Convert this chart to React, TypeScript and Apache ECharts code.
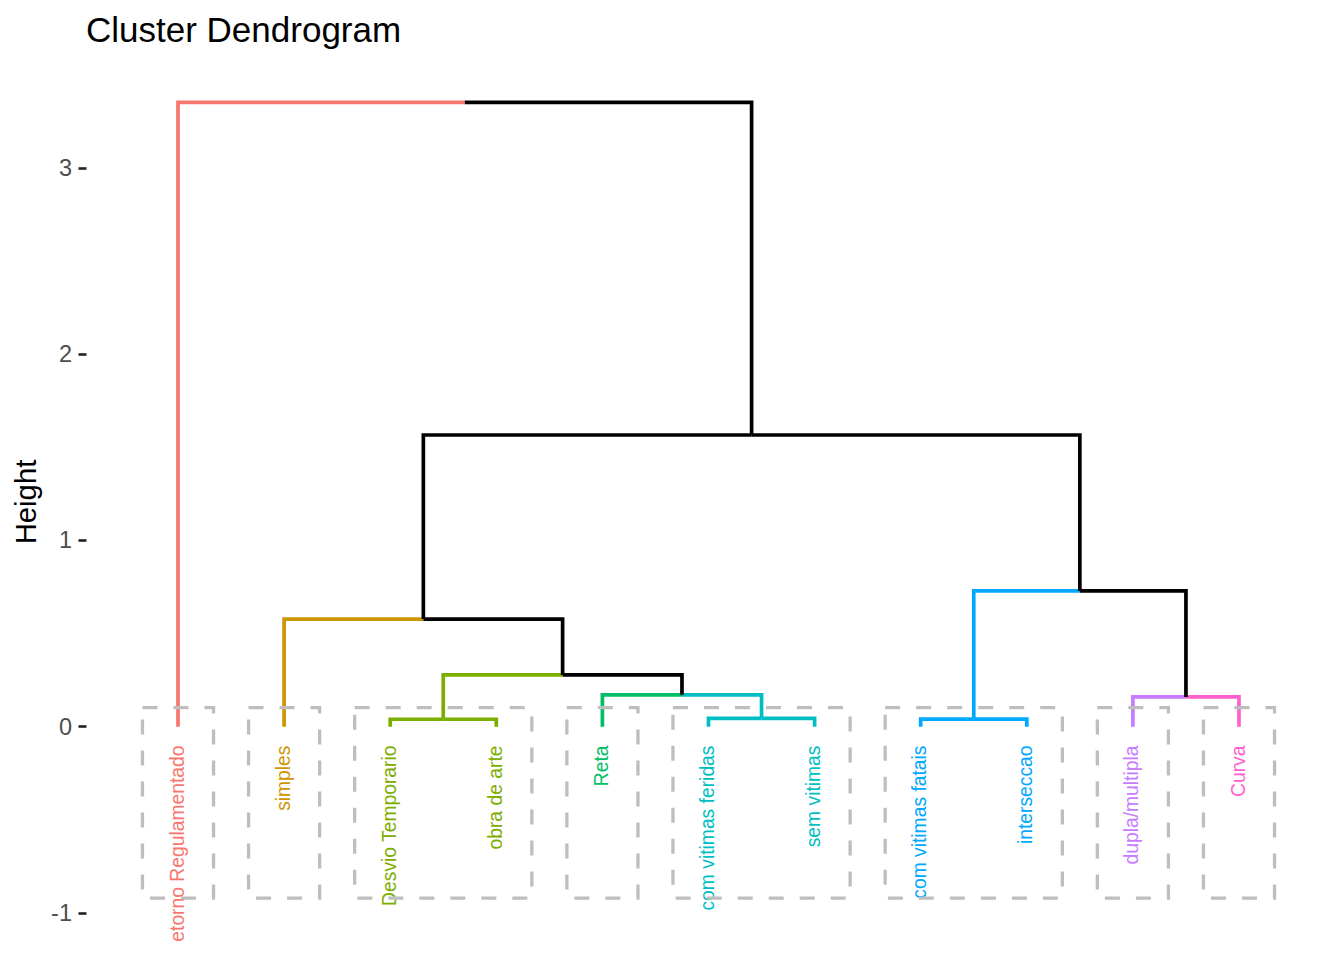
import React, { useEffect, useRef } from "react";
import * as echarts from "echarts";

// ---- data ----
const leafLabels = [
  "Retorno Regulamentado",
  "simples",
  "Desvio Temporario",
  "obra de arte",
  "Reta",
  "com vitimas feridas",
  "sem vitimas",
  "com vitimas fatais",
  "interseccao",
  "dupla/multipla",
  "Curva",
];
const leafCluster = [0, 1, 2, 2, 3, 4, 4, 5, 5, 6, 7];
const clusterColors = [
  "#F8766D",
  "#CD9600",
  "#7CAE00",
  "#00BE67",
  "#00BFC4",
  "#00A9FF",
  "#C77CFF",
  "#FF61CC",
];
// hclust-style merges: negative = leaf (1-based), positive = earlier merge (1-based)
const mergeLeft = [-3, -6, -8, -10, -5, 1, -2, 3, 7, -1];
const mergeRight = [-4, -7, -9, -11, 2, 5, 6, 4, 8, 9];
const mergeHeight = [0.04, 0.045, 0.041, 0.16, 0.171, 0.278, 0.578, 0.729, 1.566, 3.352];
const yTicks = [-1, 0, 1, 2, 3];
const rectTop = 0.102;
const rectBottom = -0.92;
const rectPad = 0.335;
const labelY = -0.101;

const FONT = "'Liberation Sans', Arial, Helvetica, sans-serif";

type Node = { x: number; h: number; color: string };

function buildTree() {
  const nodes: Node[] = [];
  const get = (ref: number): Node => {
    if (ref < 0) {
      const i = -ref;
      return { x: i, h: 0, color: clusterColors[leafCluster[i - 1]] };
    }
    return nodes[ref - 1];
  };
  const polylines: { points: number[][]; color: string }[] = [];
  for (let m = 0; m < mergeHeight.length; m++) {
    const a = get(mergeLeft[m]);
    const b = get(mergeRight[m]);
    const h = mergeHeight[m];
    const xm = (a.x + b.x) / 2;
    const color = a.color === b.color ? a.color : "#000000";
    polylines.push({ points: [[a.x, a.h], [a.x, h], [xm, h]], color: a.color });
    polylines.push({ points: [[xm, h], [b.x, h], [b.x, b.h]], color: b.color });
    nodes.push({ x: xm, h, color });
  }
  return polylines;
}

function buildRects() {
  const rects: number[][] = [];
  for (let k = 0; k < clusterColors.length; k++) {
    const leaves = leafCluster
      .map((c, i) => (c === k ? i + 1 : -1))
      .filter((v) => v > 0);
    rects.push([Math.min(...leaves) - rectPad, rectTop, Math.max(...leaves) + rectPad, rectBottom]);
  }
  return rects;
}

export default function App() {
  const ref = useRef<HTMLDivElement>(null);
  useEffect(() => {
    if (!ref.current) return;
    const chart = echarts.init(ref.current, undefined, { renderer: "svg" });
    const polylines = buildTree();
    const rects = buildRects();

    const unit = 106.1;
    const gridLeft = 86.5;
    const gridRight = 10;
    const xMin = 1 - (178 - gridLeft) / unit;
    const xMax = xMin + (1344 - gridLeft - gridRight) / unit;

    chart.setOption({
      animation: false,
      backgroundColor: "#ffffff",
      title: {
        text: "Cluster Dendrogram",
        left: 86,
        top: 12,
        padding: 0,
        textStyle: { fontSize: 35, fontWeight: "normal", color: "#000000", fontFamily: FONT },
      },
      grid: { left: gridLeft, right: gridRight, top: 74.8, bottom: 19.1 },
      xAxis: {
        type: "value",
        min: xMin,
        max: xMax,
        show: false,
      },
      yAxis: {
        type: "value",
        min: -1.15,
        max: 3.5,
        axisLine: { show: false },
        splitLine: { show: false },
        axisTick: {
          show: true,
          length: 8,
          customValues: yTicks,
          lineStyle: { color: "#222222", width: 2.6 },
        },
        axisLabel: {
          customValues: yTicks,
          fontSize: 23.5,
          color: "#4D4D4D",
          margin: 14.5,
          fontFamily: FONT,
        },
      },
      graphic: [
        {
          type: "text",
          x: 25,
          y: 502,
          rotation: Math.PI / 2,
          style: {
            text: "Height",
            fontSize: 29.3,
            fontFamily: FONT,
            fill: "#000000",
            align: "center",
            verticalAlign: "middle",
          },
        },
      ],
      series: [
        {
          type: "custom",
          name: "dendrogram",
          clip: true,
          z: 2,
          data: polylines.map((p) => p.points[0]),
          renderItem: (params: any, api: any) => {
            const seg = polylines[params.dataIndex];
            return {
              type: "polyline",
              shape: { points: seg.points.map((pt) => api.coord(pt)) },
              style: { stroke: seg.color, lineWidth: 3.7, fill: "none", lineJoin: "miter" },
            };
          },
        },
        {
          type: "custom",
          name: "labels",
          clip: true,
          z: 3,
          data: leafLabels.map((_, i) => [i + 1, labelY]),
          renderItem: (params: any, api: any) => {
            const i = params.dataIndex;
            const p = api.coord([i + 1, labelY]);
            return {
              type: "text",
              x: p[0] - 1,
              y: p[1],
              rotation: Math.PI / 2,
              style: {
                text: leafLabels[i],
                fill: clusterColors[leafCluster[i]],
                fontSize: 19.3,
                fontFamily: FONT,
                align: "right",
                verticalAlign: "middle",
              },
            };
          },
        },
        {
          type: "custom",
          name: "clusters",
          clip: true,
          z: 4,
          data: rects.map((r) => [r[0], r[1]]),
          renderItem: (params: any, api: any) => {
            const r = rects[params.dataIndex];
            const p1 = api.coord([r[0], r[1]]);
            const p2 = api.coord([r[2], r[3]]);
            return {
              type: "rect",
              shape: { x: p1[0], y: p1[1], width: p2[0] - p1[0], height: p2[1] - p1[1] },
              style: { fill: "none", stroke: "#BEBEBE", lineWidth: 3.3, lineDash: [15, 16] },
            };
          },
        },
      ],
    });
    return () => chart.dispose();
  }, []);
  return (
    <div
      ref={ref}
      style={{ position: "absolute", left: 0, top: 0, width: 1344, height: 960, background: "#fff" }}
    />
  );
}
